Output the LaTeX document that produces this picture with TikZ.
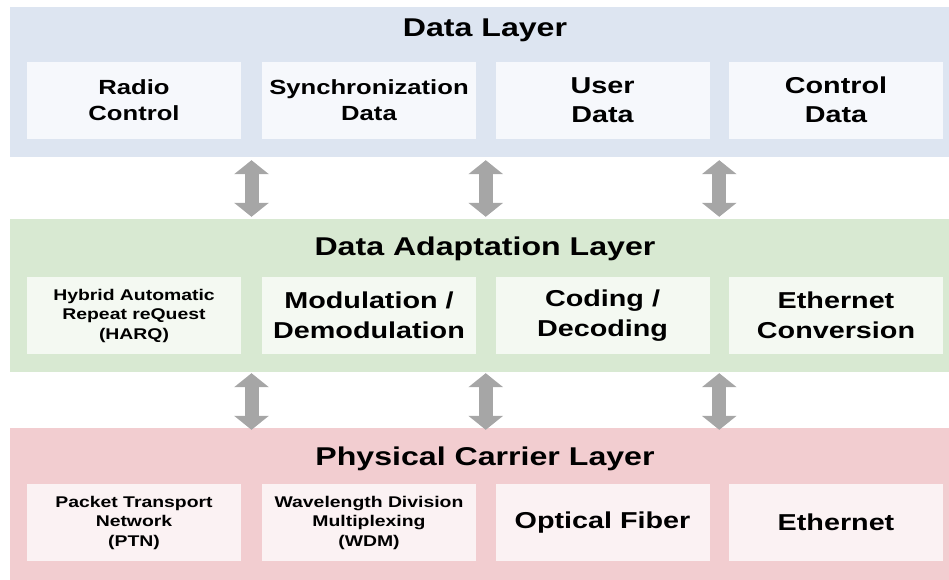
\documentclass[tikz,border=0pt]{standalone}
\usepackage{fontspec}
\setmainfont{Liberation Sans}[FakeStretch=1.25]
\usetikzlibrary{arrows.meta,calc}
\definecolor{bandblue}{HTML}{DDE5F1}
\definecolor{bandgreen}{HTML}{D8E9D2}
\definecolor{bandred}{HTML}{F2CDD0}
\definecolor{cellblue}{HTML}{F6F8FC}
\definecolor{cellgreen}{HTML}{F4F9F2}
\definecolor{cellred}{HTML}{FBF2F3}
\definecolor{arrowgray}{HTML}{A6A6A6}
\tikzset{
	layer/.style = {rectangle, inner sep=0pt, minimum width=950pt},
	cell/.style = {rectangle, inner sep=0pt, minimum width=214pt, minimum height=77pt, align=center},
	ttl/.style = {anchor=base, font=\bfseries\fontsize{25.7}{30}\selectfont},
	big/.style = {font=\bfseries\fontsize{23}{29.5}\selectfont},
	mid/.style = {font=\bfseries\fontsize{20.5}{25.5}\selectfont},
	sml/.style = {font=\bfseries\fontsize{15.5}{19.5}\selectfont},
	dblarrow/.style = {draw=arrowgray, line width=14pt,
		{Triangle[length=14pt, width=34pt]}-{Triangle[length=14pt, width=34pt]}}
}
\begin{document}
\begin{tikzpicture}[x=1pt, y=-1pt]
	\useasboundingbox (0,0) rectangle (949,579);
	% 数据层
	\node [layer, fill=bandblue, minimum height=150pt] (dat) at (485,82) {};
	\node [ttl] (datt) at (485,36) {Data Layer};
	\node [cell, fill=cellblue, mid] (d1) at (134,100) {Radio\\Control};
	\node [cell, fill=cellblue, mid] (d2) at (369,100) {Synchronization\\Data};
	\node [cell, fill=cellblue, big] (d3) at (602.5,100) {User\\Data};
	\node [cell, fill=cellblue, big] (d4) at (836,100) {Control\\Data};
	% 数据适配层
	\node [layer, fill=bandgreen, minimum height=153pt] (ada) at (485,295.5) {};
	\node [ttl] (adat) at (485,255) {Data Adaptation Layer};
	\node [cell, fill=cellgreen, sml] (a1) at (134,315.5) {Hybrid Automatic\\Repeat reQuest\\(HARQ)};
	\node [cell, fill=cellgreen, big] (a2) at (369,315.5) {Modulation /\\Demodulation};
	\node [cell, fill=cellgreen, big] (a3) at (602.5,315.5) {Coding /\\Decoding};
	\node [cell, fill=cellgreen, big] (a4) at (836,315.5) {Ethernet\\Conversion};
	% 物理承载层
	\node [layer, fill=bandred, minimum height=162pt] (phy) at (485,509) {};
	\node [ttl] (phyt) at (485,465) {Physical Carrier Layer};
	\node [cell, fill=cellred, sml] (p1) at (134,522.5) {Packet Transport\\Network\\(PTN)};
	\node [cell, fill=cellred, sml] (p2) at (369,522.5) {Wavelength Division\\Multiplexing\\(WDM)};
	\node [cell, fill=cellred, big] (p3) at (602.5,522.5) {Optical Fiber};
	\node [cell, fill=cellred, big] (p4) at (836,522.5) {Ethernet};
	% 箭头
	\coordinate (g1) at ($(d1.east)!.5!(d2.west)$);
	\coordinate (g2) at ($(d2.east)!.5!(d3.west)$);
	\coordinate (g3) at ($(d3.east)!.5!(d4.west)$);
	\foreach \g in {g1, g2, g3} {
		\draw [dblarrow] ($(dat.south -| \g)+(0,3)$) -- ($(ada.north -| \g)+(0,-2)$);
		\draw [dblarrow] ($(ada.south -| \g)+(0,1)$) -- ($(phy.north -| \g)+(0,2)$);
	}
\end{tikzpicture}
\end{document}
